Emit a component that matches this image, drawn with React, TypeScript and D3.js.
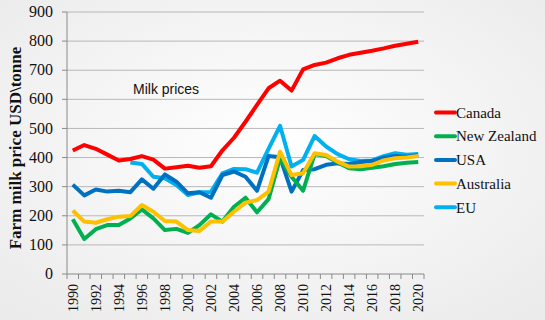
import React from "react";
import * as d3 from "d3";

const years = d3.range(1990, 2021);
const canada = [424, 443, 430, 410, 390, 395, 405, 393, 362, 367, 372, 365, 370, 425, 468, 523, 581, 638, 664, 630, 703, 718, 726, 741, 753, 760, 767, 775, 784, 791, 798];
const newZealand = [188, 120, 154, 168, 168, 191, 222, 191, 151, 155, 141, 168, 205, 180, 231, 262, 212, 257, 398, 334, 286, 412, 405, 383, 363, 360, 365, 370, 378, 382, 385];
const usa = [307, 270, 290, 283, 286, 281, 325, 293, 342, 317, 277, 281, 262, 340, 352, 334, 286, 405, 401, 283, 357, 360, 375, 380, 378, 385, 388, 400, 405, 403, 408];
const australia = [218, 180, 176, 188, 197, 199, 237, 214, 182, 180, 151, 148, 180, 180, 214, 245, 254, 283, 420, 340, 346, 415, 409, 386, 369, 370, 375, 390, 398, 400, 405];
const eu: (number | null)[] = [null, null, null, null, null, 383, 378, 334, 329, 306, 271, 281, 282, 346, 361, 360, 348, 430, 509, 369, 392, 474, 438, 412, 394, 388, 390, 405, 415, 410, 412];
const yTicks = [0, 100, 200, 300, 400, 500, 600, 700, 800, 900];

const series = [
  { name: "Canada", values: canada as (number | null)[], color: "#FF0000" },
  { name: "New Zealand", values: newZealand as (number | null)[], color: "#00B050" },
  { name: "USA", values: usa as (number | null)[], color: "#0070C0" },
  { name: "Australia", values: australia as (number | null)[], color: "#FFC000" },
  { name: "EU", values: eu, color: "#00B0F0" },
];
const drawOrder = ["EU", "Canada", "USA", "New Zealand", "Australia"];

export default function App() {
  const W = 545, H = 320;
  const left = 67, right = 424, top = 12, bottom = 274;
  const x = d3.scaleBand<number>().domain(years).range([left, right]).padding(0);
  const y = d3.scaleLinear().domain([0, 900]).range([bottom, top]);
  const cx = (yr: number) => (x(yr) as number) + x.bandwidth() / 2;
  const line = d3
    .line<number | null>()
    .defined((d) => d != null)
    .x((_, i) => cx(years[i]))
    .y((d) => y(d as number));

  const serif = "'Liberation Serif', 'DejaVu Serif', serif";
  const boundaries = [...years.map((yr) => x(yr) as number), right];

  return (
    <svg width={W} height={H} style={{ position: "absolute", left: 0, top: 0 }}>
      <defs>
        <radialGradient id="bg" cx="50%" cy="45%" r="70%">
          <stop offset="0%" stopColor="#ffffff" />
          <stop offset="100%" stopColor="#ebebeb" />
        </radialGradient>
      </defs>
      <rect x={0} y={0} width={W} height={H} fill="url(#bg)" />
      {yTicks.map((t) => (
        <g key={t}>
          {t > 0 && (
            <line x1={left} x2={right} y1={y(t)} y2={y(t)} stroke="#b8b8b8" strokeWidth={1} />
          )}
          <line x1={left - 5} x2={left} y1={y(t)} y2={y(t)} stroke="#8a8a8a" strokeWidth={1} />
          <text x={53} y={y(t)} dy="0.32em" textAnchor="end" fontFamily={serif} fontSize={16} fill="#111">
            {t}
          </text>
        </g>
      ))}
      <line x1={left} x2={left} y1={top} y2={bottom} stroke="#8a8a8a" strokeWidth={1} />
      <line x1={left} x2={right} y1={bottom} y2={bottom} stroke="#8a8a8a" strokeWidth={1} />
      {boundaries.map((b, i) => (
        <line key={i} x1={b} x2={b} y1={bottom} y2={bottom + 5} stroke="#8a8a8a" strokeWidth={1} />
      ))}
      {years
        .filter((yr) => yr % 2 === 0)
        .map((yr) => (
          <text
            key={yr}
            transform={`translate(${cx(yr)},${bottom + 10}) rotate(-90)`}
            textAnchor="end"
            dy="0.35em"
            fontFamily={serif}
            fontSize={14}
            fill="#111"
          >
            {yr}
          </text>
        ))}
      <text
        transform={`translate(21,${148}) rotate(-90)`}
        textAnchor="middle"
        fontFamily={serif}
        fontWeight="bold"
        fontSize={17}
        fill="#111"
      >
        Farm milk price USD\tonne
      </text>
      <text x={133} y={94} fontFamily="'Liberation Sans', Arial, sans-serif" fontSize={14} fill="#111">
        Milk prices
      </text>
      {drawOrder.map((nm) => {
        const s = series.find((q) => q.name === nm)!;
        return (
          <path
            key={nm}
            d={line(s.values) || ""}
            fill="none"
            stroke={s.color}
            strokeWidth={4}
            strokeLinejoin="round"
          />
        );
      })}
      {series.map((s, i) => {
        const ly = 112.5 + i * 23.7;
        return (
          <g key={s.name}>
            <line x1={436} x2={455} y1={ly} y2={ly} stroke={s.color} strokeWidth={4} strokeLinecap="round" />
            <text x={456} y={ly} dy="0.35em" fontFamily={serif} fontSize={15} fill="#111">
              {s.name}
            </text>
          </g>
        );
      })}
    </svg>
  );
}
